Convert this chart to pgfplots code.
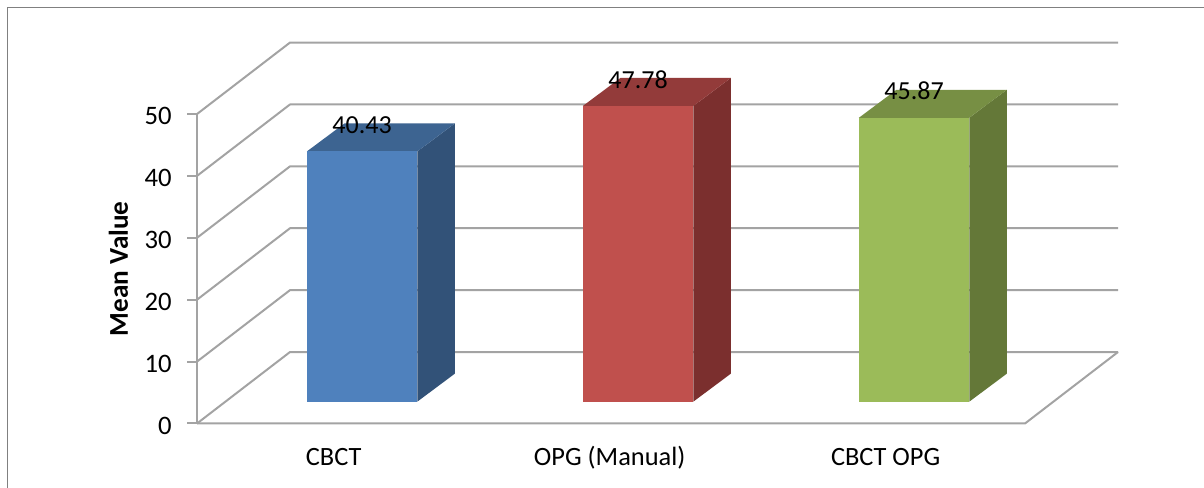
\documentclass[border=0pt]{standalone}
\usepackage{pgfplots}
\pgfplotsset{compat=1.18}
\usepackage{fontspec}
\setmainfont{Carlito}
\definecolor{gl}{HTML}{A3A3A3}
\definecolor{fr}{HTML}{808080}
\definecolor{bf}{HTML}{4F81BD}\definecolor{bs}{HTML}{325278}\definecolor{bt}{HTML}{3D6491}
\definecolor{rf}{HTML}{C0504D}\definecolor{rs}{HTML}{7B2F2E}\definecolor{rt}{HTML}{933B3A}
\definecolor{gf}{HTML}{9BBB59}\definecolor{gs}{HTML}{647838}\definecolor{gt}{HTML}{778F44}
\pgfplotsset{/pgf/number format/assume math mode=true}
\begin{document}
\begin{tikzpicture}[x=1pt,y=1pt]
\path[use as bounding box] (0,0) rectangle (903,366);
\draw[fr,line width=1.1pt] (5.6,0) -- (5.6,360.4) -- (903,360.4);
\begin{axis}[
  at={(147.75pt,48.375pt)},anchor=south west,
  scale only axis,width=621pt,height=232.1pt,
  xmin=-0.5,xmax=2.5,ymin=0,ymax=50,
  clip=false,
  axis x line=none,
  axis y line=left,
  y axis line style={-,gl,line width=1.5pt},
  ytick={0,10,20,30,40,50},
  y tick style={gl,line width=1.5pt},
  tick align=outside,
  major tick length=7.5pt,
  y tick label style={font=\fontsize{20pt}{22pt}\selectfont,xshift=-8pt,yshift=-1.5pt},
  ylabel={\textbf{Mean Value}},
  ylabel style={font=\fontsize{20.4pt}{22pt}\selectfont,yshift=5.5pt},
]
\pgfplotsinvokeforeach{0,10,20,30,40,50}{%
  \pgfmathsetmacro{\yb}{#1+11.55}
  \edef\tmp{\noexpand\addplot[gl,line width=1.5pt,line join=round] coordinates {(-0.5,#1) (-0.163,\yb) (2.837,\yb)};}
  \tmp
}
\addplot[gl,line width=1.5pt] coordinates {(-0.5,0) (2.5,0) (2.837,11.55)};
\end{axis}
\begin{axis}[
  at={(147.75pt,64.725pt)},anchor=south west,
  scale only axis,width=621pt,height=232.1pt,
  xmin=-0.598,xmax=2.402,ymin=0,ymax=50,
  clip=false,
  hide axis,
]
% side faces
\addplot[fill=bs,draw=none] coordinates {(0.2,0) (0.336,4.52) (0.336,44.95) (0.2,40.43)} --cycle;
\addplot[fill=rs,draw=none] coordinates {(1.2,0) (1.336,4.52) (1.336,52.30) (1.2,47.78)} --cycle;
\addplot[fill=gs,draw=none] coordinates {(2.2,0) (2.336,4.52) (2.336,50.39) (2.2,45.87)} --cycle;
% top faces
\addplot[fill=bt,draw=none] coordinates {(-0.2,40.43) (-0.064,44.95) (0.336,44.95) (0.2,40.43)} --cycle;
\addplot[fill=rt,draw=none] coordinates {(0.8,47.78) (0.936,52.30) (1.336,52.30) (1.2,47.78)} --cycle;
\addplot[fill=gt,draw=none] coordinates {(1.8,45.87) (1.936,50.39) (2.336,50.39) (2.2,45.87)} --cycle;
% front faces
\pgfplotsset{bar3d/.style={ybar,bar width=82.9pt,draw=none,
   nodes near coords,
   nodes near coords style={font=\fontsize{19.5pt}{22pt}\selectfont,text=black,anchor=center,yshift=20pt,
     /pgf/number format/.cd,fixed,precision=2,fixed zerofill,assume math mode=true}}}
\addplot[bar3d,fill=bf] coordinates {(0,40.43)};
\addplot[bar3d,fill=rf] coordinates {(1,47.78)};
\addplot[bar3d,fill=gf] coordinates {(2,45.87)};
\end{axis}
\begin{axis}[
  at={(147.75pt,48.375pt)},anchor=south west,
  scale only axis,width=621pt,height=232.1pt,
  xmin=-0.5,xmax=2.5,ymin=0,ymax=50,
  axis y line=none,
  axis x line=bottom,
  x axis line style={draw=none},
  xtick={0,1,2},
  xticklabels={CBCT,OPG (Manual),CBCT OPG},
  x tick style={draw=none},
  x tick label style={font=\fontsize{19.8pt}{22pt}\selectfont,yshift=-11.5pt,text height=14pt,text depth=0pt,xshift=-1pt},
]
\end{axis}
\end{tikzpicture}
\end{document}
